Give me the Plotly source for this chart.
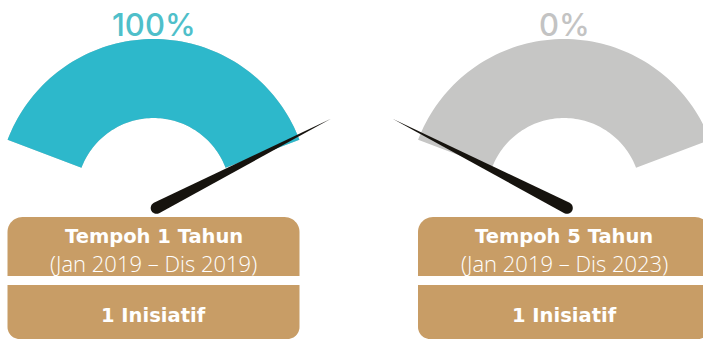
import math
import plotly.graph_objects as go

# Progress of initiatives per period
periods = ["Tempoh 1 Tahun", "Tempoh 5 Tahun"]
period_ranges = ["(Jan 2019 – Dis 2019)", "(Jan 2019 – Dis 2023)"]
initiatives = ["1 Inisiatif", "1 Inisiatif"]
progress = [100, 0]

W, H = 703, 339
TEAL = "#2db8cb"
TEAL_TEXT = "#4fbfca"
GREY = "#c6c6c5"
GREY_TEXT = "#c3c3c3"
TAN = "#c89d66"
NEEDLE = "#16130e"

centers_x = [153.5, 564.0]
CY = 195.0
R_OUT, R_IN = 156.0, 77.0
ARC_START, ARC_END = 159.3, 20.7        # arc extent (degrees)
NEEDLE_MIN, NEEDLE_MAX = 152.9, 27.1    # needle angle for 0 % and 100 %
NEEDLE_LEN = 196.0
NEEDLE_HALF_W = 5.8


def pt(cx, cy, r, deg):
    a = math.radians(deg)
    return cx + r * math.cos(a), cy - r * math.sin(a)


def arc_path(cx, cy, a0, a1, n=80):
    outer = [pt(cx, cy, R_OUT, a0 + (a1 - a0) * i / n) for i in range(n + 1)]
    inner = [pt(cx, cy, R_IN, a1 + (a0 - a1) * i / n) for i in range(n + 1)]
    pts = outer + inner
    return "M " + " L ".join(f"{x:.2f},{y:.2f}" for x, y in pts) + " Z"


def needle_path(px, py, deg):
    a = math.radians(deg)
    ux, uy = math.cos(a), -math.sin(a)
    nx, ny = -uy, ux
    tip = (px + NEEDLE_LEN * ux, py + NEEDLE_LEN * uy)
    pts = [tip, (px + NEEDLE_HALF_W * nx, py + NEEDLE_HALF_W * ny)]
    for i in range(1, 24):
        t = math.pi * i / 24
        c, s = math.cos(t), math.sin(t)
        pts.append((px + NEEDLE_HALF_W * (nx * c - ux * s),
                    py + NEEDLE_HALF_W * (ny * c - uy * s)))
    pts.append((px - NEEDLE_HALF_W * nx, py - NEEDLE_HALF_W * ny))
    return "M " + " L ".join(f"{x:.2f},{y:.2f}" for x, y in pts) + " Z"


def rounded_rect(x0, y0, x1, y1, rt, rb, n=12):
    pts = []
    for i in range(n + 1):
        t = math.pi / 2 * i / n
        pts.append((x0 + rt - rt * math.cos(t), y0 + rt - rt * math.sin(t)))
    for i in range(n + 1):
        t = math.pi / 2 * i / n
        pts.append((x1 - rt + rt * math.sin(t), y0 + rt - rt * math.cos(t)))
    for i in range(n + 1):
        t = math.pi / 2 * i / n
        pts.append((x1 - rb + rb * math.cos(t), y1 - rb + rb * math.sin(t)))
    for i in range(n + 1):
        t = math.pi / 2 * i / n
        pts.append((x0 + rb - rb * math.sin(t), y1 - rb + rb * math.cos(t)))
    return "M " + " L ".join(f"{x:.2f},{y:.2f}" for x, y in pts) + " Z"


BOLD_FONT = "DejaVu Sans"
LIGHT_FONT = "Open Sans"

shapes = []
annotations = []
for i, cx in enumerate(centers_x):
    val = progress[i]
    # background arc
    shapes.append(dict(type="path", path=arc_path(cx, CY, ARC_START, ARC_END),
                       fillcolor=GREY, line=dict(width=0), layer="below"))
    # filled portion of arc
    if val > 0:
        a_end = ARC_START + (ARC_END - ARC_START) * val / 100
        shapes.append(dict(type="path", path=arc_path(cx, CY, ARC_START, a_end),
                           fillcolor=TEAL, line=dict(width=0), layer="below"))
    # info boxes
    bx0, bx1 = cx - 146, cx + 146
    shapes.append(dict(type="path", path=rounded_rect(bx0, 217, bx1, 276, 15, 0),
                       fillcolor=TAN, line=dict(width=0), layer="below"))
    shapes.append(dict(type="path", path=rounded_rect(bx0, 285, bx1, 339, 0, 12),
                       fillcolor=TAN, line=dict(width=0), layer="below"))
    # needle
    ang = NEEDLE_MIN + (NEEDLE_MAX - NEEDLE_MIN) * val / 100
    shapes.append(dict(type="path", path=needle_path(cx + 3, 208, ang),
                       fillcolor=NEEDLE, line=dict(width=0), layer="above"))

    annotations.append(dict(x=cx, y=24, text=f"{val}%", showarrow=False,
                            font=dict(family="Inter", size=31, weight=500,
                                      color=TEAL_TEXT if val > 0 else GREY_TEXT)))
    annotations.append(dict(x=cx, y=236, text=f"<b>{periods[i]}</b>", showarrow=False,
                            font=dict(family=BOLD_FONT, size=19.5, color="white")))
    annotations.append(dict(x=cx, y=263, text=period_ranges[i], showarrow=False,
                            font=dict(family=LIGHT_FONT, size=22, color="white",
                                      weight=300)))
    annotations.append(dict(x=cx, y=315, text=f"<b>{initiatives[i]}</b>", showarrow=False,
                            font=dict(family=BOLD_FONT, size=19.5, color="white")))

fig = go.Figure()
fig.update_layout(
    width=W, height=H, margin=dict(l=0, r=0, t=0, b=0),
    paper_bgcolor="white", plot_bgcolor="white",
    xaxis=dict(range=[0, W], visible=False, fixedrange=True),
    yaxis=dict(range=[H, 0], visible=False, fixedrange=True),
    shapes=shapes, annotations=annotations, showlegend=False,
)
fig.write_html("out.html", config={"displayModeBar": False})
